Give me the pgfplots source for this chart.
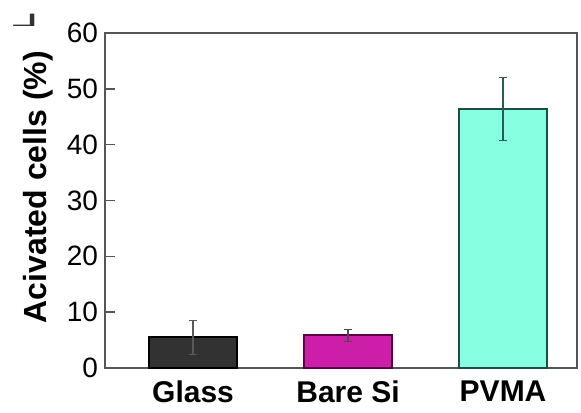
\documentclass[border=0pt]{standalone}
\usepackage{graphicx}
\usepackage{fontspec}
\setmainfont{Liberation Sans}
\usepackage{pgfplots}
\pgfplotsset{compat=1.18}
\definecolor{glassc}{RGB}{50,50,50}
\definecolor{sic}{RGB}{205,30,170}
\definecolor{sie}{RGB}{90,0,70}
\definecolor{pvc}{RGB}{135,255,225}
\definecolor{pve}{RGB}{25,80,65}
\definecolor{axc}{RGB}{85,85,85}
\begin{document}
\begin{tikzpicture}
\path[use as bounding box] (-52.5pt,-22pt) rectangle (238pt,184pt);
\node[font=\fontsize{12}{13}\selectfont, text=black!80] at (-40pt,174pt) {\scalebox{-2}[0.75]{L}};
\begin{axis}[
  scale only axis,
  width=236pt, height=167.5pt,
  ybar, bar width=44pt, bar shift=0pt,
  xmin=-0.568, xmax=2.477,
  ymin=0, ymax=60,
  ytick={0,10,20,30,40,50,60},
  xtick={0,1,2},
  xticklabels={Glass,Bare Si,PVMA},
  x tick label style={font=\fontsize{15}{17}\selectfont\bfseries, yshift=-5pt, inner ysep=1pt},
  y tick label style={font=\fontsize{14}{16}\selectfont},
  /pgf/number format/assume math mode=true,
  major x tick style={draw=none},
  ytick style={axc, line width=0.8pt},
  tick align=inside,
  ytick pos=left,
  major tick length=5pt,
  axis line style={axc, line width=1pt},
  ylabel={\bfseries Acivated cells (\%)},
  ylabel style={font=\fontsize{16}{18}\selectfont, at={(axis description cs:-0.095,0.54)}},
  error bars/y dir=both,
  error bars/y explicit,
]
\addplot[fill=glassc, draw=black, line width=0.8pt,
  error bars/error bar style={gray!70!black, line width=1.2pt}]
  coordinates {(0,5.5) +- (0,3.0)};
\addplot[fill=sic, draw=sie, line width=0.8pt,
  error bars/error bar style={black!70, line width=1.2pt}]
  coordinates {(1,5.9) +- (0,1.1)};
\addplot[fill=pvc, draw=pve, line width=0.8pt,
  error bars/error bar style={pve!80!gray, line width=1.2pt}]
  coordinates {(2,46.4) +- (0,5.6)};
\end{axis}
\end{tikzpicture}
\end{document}
